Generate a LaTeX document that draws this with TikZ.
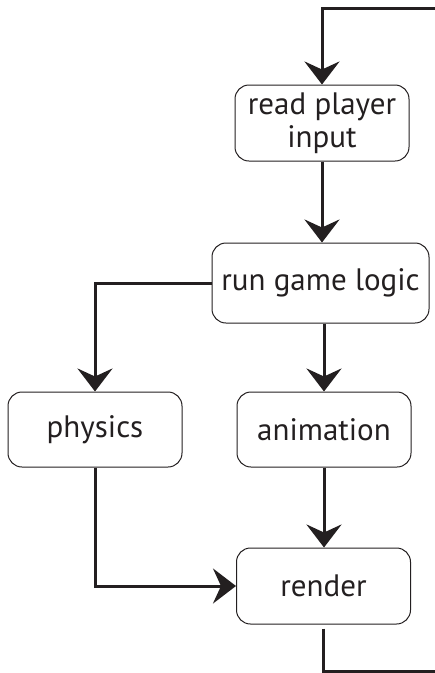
\documentclass[tikz,border=0pt]{standalone}
\usepackage{fontspec}
\setmainfont{PT Sans}
\usetikzlibrary{arrows.meta}
\definecolor{ink}{RGB}{35,31,32}
\tikzstyle{stepbox} = [draw=ink, line width=1pt, rounded corners=14pt,
    minimum width=174pt, minimum height=76pt, align=center,
    inner sep=1pt, text=ink, font=\fontsize{31}{33}\selectfont]
\tikzset{>={Stealth[length=23pt,width=35pt,inset=8pt]}}
\tikzstyle{flow} = [draw=ink, line width=3pt, ->]

\begin{document}
\begin{tikzpicture}[x=1pt,y=-1pt]
\useasboundingbox (0,0) rectangle (435,673);
    %boxes
    \node[stepbox] (read) at (322,123) {read player\\input};
    \node[stepbox, minimum width=217pt, minimum height=80pt] (logic) at (320.5,283) {run game logic};
    \node[stepbox, minimum height=75pt] (physics) at (95,429.5) {physics};
    \node[stepbox, minimum height=75pt] (anim) at (324,429.5) {animation};
    \node[stepbox] (render) at (323.5,586) {render};
    %free ends
    \coordinate (loopin) at (436,8);
    \coordinate (loopout) at (436,671.5);
    %lines
    \draw[flow] (loopin) -| (read.north);
    \draw[flow] (read.south) -- (read.south |- logic.north);
    \draw[flow] (logic.west) -| (physics.north);
    \draw[flow] (logic.south -| anim.north) -- (anim.north);
    \draw[flow] (anim.south) -- (anim.south |- render.north);
    \draw[flow] (physics.south) |- (render.west);
    \draw[draw=ink, line width=3pt, shorten <=4pt] (render.south) |- (loopout);
\end{tikzpicture}
\end{document}
